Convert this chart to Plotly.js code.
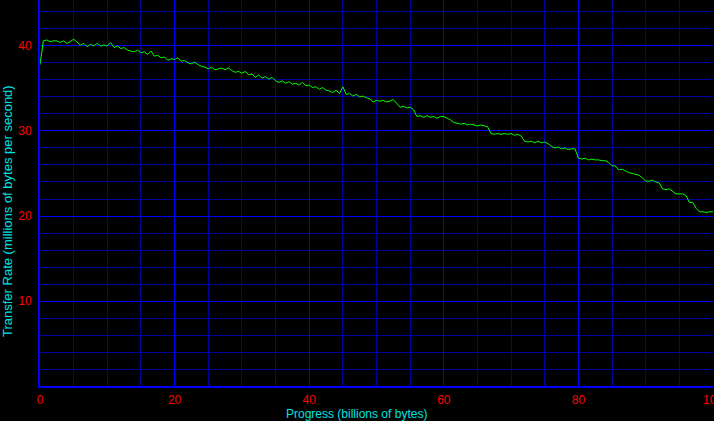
<!DOCTYPE html>
<html>
<head>
<meta charset="utf-8">
<script src="https://cdn.plot.ly/plotly-3.0.1.min.js"></script>
<style>html,body{margin:0;padding:0;background:#000;}#chart{width:714px;height:421px;}</style>
</head>
<body>
<div id="chart"></div>
<script>
// Sampling step along progress axis (billions of bytes)
const progressStart = 0;
const progressStep = 0.5;
// Transfer rate (millions of bytes per second)
const transferRate = [
37.8,40.6,40.7,40.5,40.6,40.6,40.4,40.6,40.3,40.5,
40.8,40.4,40.1,40.3,39.9,40.2,40.0,40.3,40.0,40.1,
40.0,40.4,39.8,40.0,39.7,39.8,39.5,39.4,39.3,39.5,
39.2,39.3,39.0,39.4,38.8,38.9,38.6,38.7,38.3,38.5,
38.4,38.6,38.2,38.3,38.0,37.9,38.1,37.8,37.6,37.5,
37.3,37.5,37.2,37.3,37.4,37.2,37.4,37.1,36.9,37.0,
36.8,37.0,36.6,36.7,36.3,36.6,36.2,36.4,36.1,36.3,
35.9,35.7,35.9,35.6,35.8,35.5,35.6,35.4,35.7,35.3,
35.4,35.1,35.2,34.9,35.1,34.8,34.7,34.5,34.8,34.4,
35.2,34.3,34.4,34.1,34.3,34.0,34.1,33.9,33.8,33.4,
33.6,33.5,33.6,33.4,33.5,33.7,33.2,32.8,32.9,32.7,
32.8,32.5,31.7,31.8,31.6,31.8,31.6,31.7,31.5,31.7,
31.7,31.5,31.3,31.0,30.9,30.8,30.9,30.7,30.8,30.7,
30.6,30.7,30.6,30.5,29.7,29.6,29.7,29.6,29.7,29.6,
29.7,29.5,29.6,29.4,28.8,28.7,28.8,28.6,28.8,28.6,
28.7,28.5,28.2,28.0,28.1,27.9,28.0,27.8,27.9,27.9,
26.8,26.7,26.8,26.6,26.7,26.6,26.6,26.5,26.5,26.3,
25.9,25.9,25.4,25.5,25.3,25.1,25.0,24.9,24.8,24.5,
24.1,24.1,24.2,24.0,23.9,23.2,23.1,23.2,22.9,22.6,
22.6,22.6,22.4,21.6,21.6,20.9,20.5,20.5,20.4,20.5,
20.5
];
const progress = transferRate.map((_, i) => progressStart + i * progressStep);

const xRange = [0, 100];
const yRange = [0.01, 45.4];
const xMajor = 20, xMinor = 5;
const yMajor = 10, yMinor = 2;

const xTitle = 'Progress (billions of bytes)';
const yTitle = 'Transfer Rate (millions of bytes per second)';

const fam = 'Liberation Sans, Arial, sans-serif';
const titleColor = '#00e0e0';
const majorColor = '#0000ff';
const minorColor = '#0000a0';

const trace = {
  x: progress, y: transferRate, xaxis: 'x', yaxis: 'y',
  type: 'scatter', mode: 'lines', line: {color: '#00ff00', width: 1}, hoverinfo: 'skip'
};

const noMinor = {showgrid: false, ticks: '', nticks: 0};
const baseAxis = {zeroline: false, ticks: '', fixedrange: true, showgrid: true, gridwidth: 1};

const layout = {
  width: 714, height: 421,
  paper_bgcolor: '#000000', plot_bgcolor: '#000000',
  margin: {l: 40, r: 1, t: 0, b: 35},
  showlegend: false,
  font: {family: fam, size: 12},
  xaxis: Object.assign({}, baseAxis, {
    range: xRange, tickmode: 'linear', tick0: 0, dtick: xMinor,
    gridcolor: minorColor, showticklabels: false, showline: false, minor: noMinor
  }),
  yaxis: Object.assign({}, baseAxis, {
    range: yRange, tickmode: 'linear', tick0: 0, dtick: yMinor,
    gridcolor: minorColor, showticklabels: false, showline: false, minor: noMinor
  }),
  xaxis2: Object.assign({}, baseAxis, {
    overlaying: 'x', anchor: 'y', side: 'bottom',
    range: xRange, tickmode: 'linear', tick0: 0, dtick: xMajor,
    gridcolor: majorColor, showline: true, linecolor: majorColor, linewidth: 2, minor: noMinor,
    tickfont: {family: fam, size: 12, color: '#ff0000'}, ticklabeloverflow: 'allow', ticklabelstandoff: 2
  }),
  yaxis2: Object.assign({}, baseAxis, {
    overlaying: 'y', anchor: 'x', side: 'left',
    range: yRange, tickmode: 'linear', tick0: 0, dtick: yMajor,
    gridcolor: majorColor, showline: true, linecolor: majorColor, linewidth: 2, minor: noMinor,
    tickfont: {family: fam, size: 12, color: '#ff0000'}, ticklabelstandoff: 4
  }),
  annotations: [
    {text: xTitle, xref: 'paper', yref: 'paper', x: (356 - 40) / 673, y: -(414 - 386) / 386,
     xanchor: 'center', yanchor: 'middle', showarrow: false, font: {family: fam, size: 12, color: titleColor}},
    {text: yTitle, xref: 'paper', yref: 'paper', x: -(40 - 8) / 673, y: (386 - 211) / 386,
     xanchor: 'center', yanchor: 'middle', showarrow: false, textangle: -90, font: {family: fam, size: 13, color: titleColor}}
  ]
};

const overlayTrace = {x: [xRange[0]], y: [yRange[0]], xaxis: 'x2', yaxis: 'y2',
  type: 'scatter', mode: 'markers', marker: {opacity: 0}, hoverinfo: 'skip'};

Plotly.newPlot('chart', [overlayTrace, trace], layout, {displayModeBar: false, staticPlot: true});
</script>
</body>
</html>
